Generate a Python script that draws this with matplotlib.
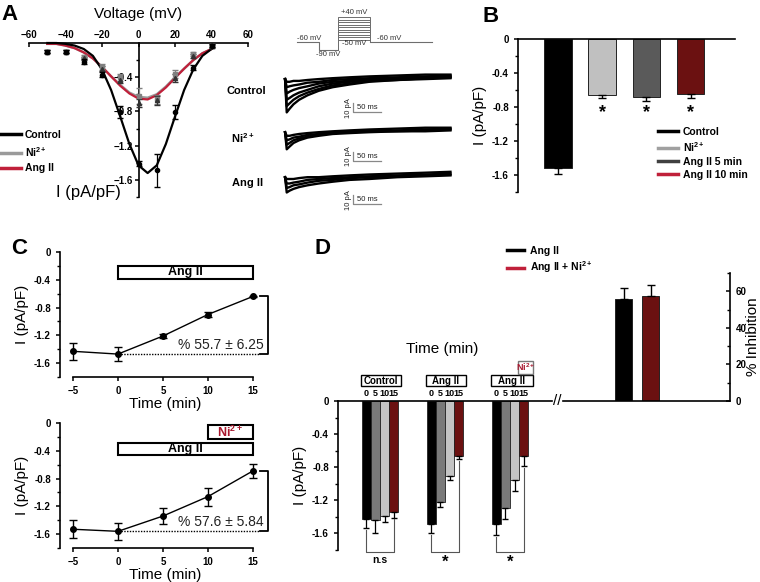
import matplotlib
matplotlib.use('Agg')
import matplotlib.pyplot as plt
from matplotlib.patches import Rectangle
from matplotlib.lines import Line2D

plt.rcParams['font.family'] = ['Liberation Sans', 'DejaVu Sans']
plt.rcParams['mathtext.fontset'] = 'custom'
plt.rcParams['mathtext.rm'] = 'Liberation Sans'
plt.rcParams['mathtext.bf'] = 'Liberation Sans:bold'
plt.rcParams['axes.linewidth'] = 1.2

# ---------------- data ----------------
# Panel A: I-V relation
iv_fit_v = [-50, -45, -40, -35, -30, -25, -20, -15, -10, -5, 0, 5, 10, 15, 20, 25, 30, 35, 40]
iv_fit_ctrl = [0.00, 0.00, -0.01, -0.03, -0.07, -0.15, -0.31, -0.55, -0.86, -1.18, -1.43, -1.52,
               -1.43, -1.18, -0.86, -0.55, -0.31, -0.15, -0.07]
iv_fit_ni = [-0.01, -0.01, -0.03, -0.06, -0.11, -0.18, -0.28, -0.39, -0.49, -0.58, -0.63, -0.64,
             -0.60, -0.51, -0.40, -0.30, -0.20, -0.12, -0.07]
iv_fit_ang = [-0.01, -0.01, -0.03, -0.06, -0.11, -0.18, -0.28, -0.39, -0.50, -0.59, -0.65, -0.66,
              -0.61, -0.52, -0.41, -0.30, -0.20, -0.12, -0.07]
iv_v = [-50, -40, -30, -20, -10, 0, 10, 20, 30, 40]
iv_ctrl = [-0.10, -0.10, -0.22, -0.37, -0.81, -1.41, -1.49, -0.81, -0.29, -0.03]
iv_ctrl_err = [0.02, 0.02, 0.03, 0.03, 0.07, 0.03, 0.19, 0.08, 0.03, 0.02]
iv_ni = [-0.10, -0.10, -0.16, -0.28, -0.40, -0.62, -0.66, -0.36, -0.13, -0.03]
iv_ni_err = [0.02, 0.02, 0.02, 0.03, 0.04, 0.09, 0.05, 0.05, 0.02, 0.02]
iv_ang = [-0.10, -0.10, -0.18, -0.30, -0.43, -0.70, -0.67, -0.41, -0.15, -0.04]
iv_ang_err = [0.02, 0.02, 0.02, 0.03, 0.04, 0.05, 0.05, 0.05, 0.02, 0.02]

# Voltage protocol (ms, mV)
prot_t = [0, 39, 73, 130, 241]
prot_hold = -60
prot_pre = -90
prot_steps = [-50, -40, -30, -20, -10, 0, 10, 20, 30, 40]

# Current traces (ms, pA)
trace_t = [0, 3, 8, 15, 25, 40, 60, 85, 115, 150, 200, 250, 295]
traces_ctrl = [
    [0, -37, -33, -28, -23, -18, -13, -9, -6, -3, -1, 0, 1],
    [0, -30, -27, -23, -19, -15, -11, -7, -5, -2, -1, 1, 2],
    [0, -23, -21, -18, -15, -12, -8, -5, -3, -1, 0, 2, 2],
    [0, -16, -14, -12, -10, -8, -5, -3, -2, 0, 1, 2, 3],
    [0, -9, -8, -7, -6, -4, -3, -1, 0, 1, 2, 3, 4],
    [0, -3, -3, -2, -2, -1, 0, 1, 2, 3, 4, 5, 5],
]
traces_ni = [
    [0, -19, -16, -12, -9, -6, -4, -2, -1, 0, 1, 1, 2],
    [0, -14, -12, -9, -7, -5, -3, -1, 0, 1, 1, 2, 3],
    [0, -9, -8, -6, -5, -3, -2, 0, 1, 1, 2, 3, 4],
    [0, -4, -4, -3, -2, -1, 0, 1, 2, 3, 4, 5, 5],
]
traces_ang = [
    [0, -17, -15, -13, -11, -9, -7, -5, -3, -2, 0, 1, 2],
    [0, -12, -11, -9, -8, -6, -4, -3, -1, 0, 1, 2, 3],
    [0, -7, -7, -6, -5, -3, -2, -1, 0, 1, 2, 3, 4],
    [0, -2, -2, -2, -1, 0, 0, 1, 2, 3, 4, 5, 6],
]

# Panel B
b_labels = ['Control', 'Ni$^{\\mathbf{2+}}$', 'Ang II 5 min', 'Ang II 10 min']
b_vals = [-1.52, -0.66, -0.68, -0.65]
b_err = [0.07, 0.04, 0.05, 0.04]

# Panel C
c_time = [-5, 0, 5, 10, 15]
c_ang = [-1.43, -1.47, -1.21, -0.90, -0.64]
c_ang_err = [0.12, 0.10, 0.03, 0.03, 0.01]
c_angni = [-1.53, -1.56, -1.34, -1.06, -0.69]
c_angni_err = [0.13, 0.12, 0.12, 0.13, 0.10]
c_inh_text = ['% 55.7 ± 6.25', '% 57.6 ± 5.84']

# Panel D
d_groups = ['Control', 'Ang II', 'Ang II']
d_times = ['0', '5', '10', '15']
d_vals = [[-1.43, -1.44, -1.39, -1.34],
          [-1.49, -1.22, -0.90, -0.66],
          [-1.49, -1.29, -0.96, -0.67]]
d_err = [[0.11, 0.15, 0.07, 0.07],
         [0.11, 0.06, 0.06, 0.04],
         [0.13, 0.13, 0.13, 0.12]]
d_sig = ['n.s', '*', '*']
inh_vals = [55.7, 57.6]
inh_err = [6.25, 5.84]

# ---------------- figure ----------------
W, H = 760, 582
fig = plt.figure(figsize=(W / 100, H / 100), dpi=100)


def pax(l, t, r, b):
    return fig.add_axes([l / W, 1 - b / H, (r - l) / W, (b - t) / H])


def ftext(x, y, s, **kw):
    fig.text(x / W, 1 - y / H, s, **kw)


RED = '#c0203a'
NIRED = '#a8182e'
DRED = '#6b1111'
NI = r'Ni$^{\mathbf{2+}}$'

# ---------- Panel A ----------
axA = pax(29, 43, 248, 197)
axA.set_xlim(-60, 60)
axA.set_ylim(-1.8, 0)
for s in ['bottom', 'right']:
    axA.spines[s].set_visible(False)
axA.spines['left'].set_position(('data', 0))
axA.xaxis.tick_top()
axA.set_xticks([-60, -40, -20, 0, 20, 40, 60])
axA.tick_params(axis='x', direction='in', length=3, width=1.1, pad=2)
axA.set_yticks([-0.4, -0.8, -1.2, -1.6])
axA.set_yticks([-0.2, -0.6, -1.0, -1.4, -1.8], minor=True)
axA.tick_params(axis='y', direction='out', length=3, width=1.1, pad=1)
axA.tick_params(axis='y', which='minor', direction='out', length=2, width=1.0)
for lb in axA.get_xticklabels() + axA.get_yticklabels():
    lb.set_fontsize(7)
    lb.set_fontweight('bold')
axA.xaxis.set_label_position('top')
axA.set_xlabel('Voltage (mV)', fontsize=11, labelpad=9)
axA.plot(iv_fit_v, iv_fit_ni, color='#9a9a9a', lw=1.8, clip_on=False, zorder=3)
axA.plot(iv_fit_v, iv_fit_ang, color=RED, lw=1.6, clip_on=False, zorder=4)
axA.plot(iv_fit_v, iv_fit_ctrl, color='black', lw=1.6, clip_on=False, zorder=5)
axA.errorbar(iv_v, iv_ni, yerr=iv_ni_err, fmt='s', color='#808080', ms=3, capsize=2,
             elinewidth=0.9, clip_on=False, zorder=6)
axA.errorbar(iv_v, iv_ang, yerr=iv_ang_err, fmt='^', color='#333333', ms=3, capsize=2,
             elinewidth=0.9, clip_on=False, zorder=6)
axA.errorbar(iv_v, iv_ctrl, yerr=iv_ctrl_err, fmt='o', color='black', ms=3, capsize=2,
             elinewidth=0.9, clip_on=False, zorder=7)
ftext(88, 193, 'I (pA/pF)', fontsize=12, ha='center', va='center')
handlesA = [Line2D([], [], color='black', lw=2.5), Line2D([], [], color='#9a9a9a', lw=2.5),
            Line2D([], [], color=RED, lw=2.5)]
fig.legend(handlesA, ['Control', NI, 'Ang II'], loc='upper left',
           bbox_to_anchor=(0 / W, 1 - 129 / H), frameon=False,
           prop=dict(size=7.5, weight='bold'), handlelength=1.9, handletextpad=0.4,
           labelspacing=0.45, borderaxespad=0, borderpad=0.1)

# ---------- Voltage protocol ----------
axP = pax(290, 5, 440, 60)
axP.set_xlim(-12.5, 255)
axP.set_ylim(-129.4, 87.3)
axP.axis('off')
pc = '#6e6e6e'
axP.plot([prot_t[0], prot_t[1], prot_t[1], prot_t[2]],
         [prot_hold, prot_hold, prot_pre, prot_pre], color=pc, lw=0.8)
for v in prot_steps:
    axP.plot([prot_t[2], prot_t[2], prot_t[3], prot_t[3]], [prot_pre, v, v, prot_hold],
             color=pc, lw=0.7)
axP.plot([prot_t[3], prot_t[4]], [prot_hold, prot_hold], color=pc, lw=0.8)
pf = dict(fontsize=5.5, color='#333333')
axP.text(prot_t[0], prot_hold + 3, '-60 mV', ha='left', va='bottom', **pf)
axP.text((prot_t[1] + prot_t[2]) / 2, prot_pre - 3, '-90 mV', ha='center', va='top', **pf)
axP.text((prot_t[2] + prot_t[3]) / 2, prot_steps[-1] + 3, '+40 mV', ha='center', va='bottom', **pf)
axP.text((prot_t[2] + prot_t[3]) / 2, prot_steps[0] - 2, '-50 mV', ha='center', va='top', **pf)
axP.text(prot_t[3] + 13, prot_hold + 3, '-60 mV', ha='left', va='bottom', **pf)

# ---------- Traces ----------
axT = pax(280, 62, 460, 215)
axT.set_xlim(-9, 312)
axT.set_ylim(-170, 0)
axT.axis('off')
trace_sets = [(traces_ctrl, -19, -37), (traces_ni, -78, -32), (traces_ang, -128, -30)]
for tset, base, sb in trace_sets:
    for tr in tset:
        axT.plot(trace_t, [base + v for v in tr], color='black', lw=1.7, solid_joinstyle='round')
    # scale bars 10 pA / 50 ms
    axT.plot([121, 121, 171], [base + sb + 10, base + sb, base + sb], color='#888888', lw=0.9)
    axT.text(146, base + sb + 1.5, '50 ms', fontsize=5.5, ha='center', va='bottom', color='#222222')
    axT.text(114, base + sb + 5, '10 pA', fontsize=5.5, ha='center', va='center', rotation=90,
             color='#222222')
ftext(246, 91, 'Control', fontsize=8, fontweight='bold', ha='center', va='center')
ftext(231, 138, NI, fontsize=8, fontweight='bold', ha='left', va='center')
ftext(232, 183, 'Ang II', fontsize=8, fontweight='bold', ha='left', va='center')

# ---------- Panel B ----------
axB = pax(518, 39, 735, 192)
axB.set_ylim(-1.8, 0)
axB.set_xlim(-0.9, 4.0)
for s in ['bottom', 'right']:
    axB.spines[s].set_visible(False)
b_colors = ['black', '#c0c0c0', '#5a5a5a', DRED]
xb = list(range(len(b_vals)))
axB.bar(xb, b_vals, 0.62, color=b_colors, edgecolor='#222222', lw=0.7)
axB.errorbar(xb, b_vals, yerr=[b_err, [0] * 4], fmt='none', ecolor='black', elinewidth=1.0,
             capsize=3)
axB.set_xticks([])
axB.set_yticks([0, -0.4, -0.8, -1.2, -1.6])
axB.set_yticklabels(['0', '-0.4', '-0.8', '-1.2', '-1.6'])
axB.set_yticks([-0.2, -0.6, -1.0, -1.4, -1.8], minor=True)
axB.tick_params(axis='y', direction='out', length=3, width=1.1, labelsize=7)
axB.tick_params(axis='y', which='minor', length=2, width=1.0)
for lb in axB.get_yticklabels():
    lb.set_fontweight('bold')
axB.set_ylabel('I (pA/pF)', fontsize=11, labelpad=4)
for i in range(1, 4):
    axB.text(xb[i], -0.76, '*', fontsize=13, fontweight='bold', ha='center', va='top')
handlesB = [Line2D([], [], color=c, lw=2.5) for c in ['black', '#a0a0a0', '#404040', RED]]
fig.legend(handlesB, b_labels, loc='upper left', bbox_to_anchor=(657 / W, 1 - 126 / H),
           frameon=False, prop=dict(size=7.5, weight='bold'), handlelength=1.9,
           handletextpad=0.5, labelspacing=0.28, borderaxespad=0, borderpad=0.1)

# ---------- Panel C ----------
def panel_c(ax, vals, errs, txt, with_ni):
    ax.set_xlim(-6.44, 16.9)
    ax.set_ylim(-1.8, 0)
    for s in ['top', 'right']:
        ax.spines[s].set_visible(False)
    ax.spines['bottom'].set_bounds(c_time[0], c_time[-1])
    ax.set_xticks(c_time)
    ax.set_yticks([0, -0.4, -0.8, -1.2, -1.6])
    ax.set_yticklabels(['0', '-0.4', '-0.8', '-1.2', '-1.6'])
    ax.set_yticks([-0.2, -0.6, -1.0, -1.4, -1.8], minor=True)
    ax.tick_params(axis='both', direction='out', length=3, width=1.1, labelsize=7)
    ax.tick_params(axis='y', which='minor', length=2, width=1.0)
    for lb in ax.get_xticklabels() + ax.get_yticklabels():
        lb.set_fontweight('bold')
    ax.set_xlabel('Time (min)', fontsize=11, labelpad=1)
    ax.set_ylabel('I (pA/pF)', fontsize=11, labelpad=4)
    ax.errorbar(c_time, vals, yerr=errs, fmt='-o', color='black', ms=4, lw=1.0, capsize=3,
                elinewidth=1.0, clip_on=False, zorder=5)
    top = -0.2 if not with_ni else -0.29
    hgt = 0.19 if not with_ni else 0.17
    ax.add_patch(Rectangle((0, top - hgt), 15, hgt, fc='white', ec='black', lw=1.5, zorder=3))
    ax.text(7.5, top - hgt / 2, 'Ang II', fontsize=9, fontweight='bold', ha='center', va='center')
    if with_ni:
        ax.add_patch(Rectangle((10, -0.23), 5, 0.2, fc='white', ec='black', lw=1.5, zorder=3))
        ax.text(12.5, -0.13, NI, fontsize=9, fontweight='bold', color=NIRED, ha='center',
                va='center')
    ax.plot([0.3, 15.8], [vals[1], vals[1]], ls=(0, (1, 1)), color='black', lw=1.0, clip_on=False)
    ax.plot([15.8, 16.67, 16.67, 15.8], [vals[-1], vals[-1], vals[1], vals[1]], color='black',
            lw=1.3, clip_on=False)
    ax.text(16.2, vals[1] + 0.13, txt, fontsize=10, ha='right', va='center', color='#222222')


axC1 = pax(60, 252, 270, 377)
panel_c(axC1, c_ang, c_ang_err, c_inh_text[0], False)
axC2 = pax(60, 423, 270, 548)
panel_c(axC2, c_angni, c_angni_err, c_inh_text[1], True)

# ---------- Panel D ----------
axD = pax(338, 401, 552, 550)
axD.set_xlim(-0.646, 2.646)
axD.set_ylim(-1.8, 0)
for s in ['bottom', 'right']:
    axD.spines[s].set_visible(False)
axD.set_xticks([])
axD.set_yticks([0, -0.4, -0.8, -1.2, -1.6])
axD.set_yticklabels(['0', '-0.4', '-0.8', '-1.2', '-1.6'])
axD.set_yticks([-0.2, -0.6, -1.0, -1.4, -1.8], minor=True)
axD.tick_params(axis='y', direction='out', length=3, width=1.1, labelsize=7)
axD.tick_params(axis='y', which='minor', length=2, width=1.0)
for lb in axD.get_yticklabels():
    lb.set_fontweight('bold')
axD.set_ylabel('I (pA/pF)', fontsize=11, labelpad=4)
w = 0.139
offs = [-1.5 * w, -0.5 * w, 0.5 * w, 1.5 * w]
d_colors = ['black', '#7a7a7a', '#c4c4c4', DRED]
for g in range(3):
    xs = [g + o for o in offs]
    axD.bar(xs, d_vals[g], w, color=d_colors, edgecolor='#222222', lw=0.6)
    axD.errorbar(xs, d_vals[g], yerr=[d_err[g], [0] * 4], fmt='none', ecolor='black',
                 elinewidth=0.9, capsize=2.5)
    for k in range(4):
        axD.text(xs[k], 0.085, d_times[k], fontsize=6.5, fontweight='bold', ha='center',
                 va='center', clip_on=False)
    right = 0.32 if g < 2 else 0.35
    axD.add_patch(Rectangle((g - 0.29, 0.18), right + 0.29, 0.13, fc='white', ec='black',
                            lw=1.0, clip_on=False))
    axD.text(g + (right - 0.29) / 2, 0.245, d_groups[g], fontsize=7, fontweight='bold',
             ha='center', va='center', clip_on=False)
    # significance bracket
    yl = d_vals[g][0] - d_err[g][0] - 0.02
    yr = d_vals[g][3] - d_err[g][3] - 0.02
    axD.plot([xs[0], xs[0], xs[3], xs[3]], [yl, -1.83, -1.83, yr], color='#555555', lw=0.8,
             clip_on=False)
    if d_sig[g] == '*':
        axD.text(g, -1.86, '*', fontsize=12, fontweight='bold', ha='center', va='top')
    else:
        axD.text(g, -1.86, d_sig[g], fontsize=7.5, fontweight='bold', ha='center', va='top')
axD.add_patch(Rectangle((2 + 0.12, 0.33), 0.23, 0.15, fc='white', ec='#777777', lw=1.0,
                        clip_on=False))
axD.text(2 + 0.235, 0.405, NI, fontsize=6.5, fontweight='bold', color=NIRED, ha='center',
         va='center', clip_on=False)
ftext(442, 349, 'Time (min)', fontsize=11, ha='center', va='center')

axI = pax(563, 273, 730, 401)
axI.set_ylim(0, 70)
axI.set_xlim(-2.24, 3.94)
for s in ['top', 'left']:
    axI.spines[s].set_visible(False)
axI.yaxis.tick_right()
axI.set_xticks([])
axI.set_yticks([0, 20, 40, 60])
axI.set_yticks([10, 30, 50, 70], minor=True)
axI.tick_params(axis='y', direction='in', length=3, width=1.1, labelsize=7, pad=4)
axI.tick_params(axis='y', which='minor', direction='in', length=2, width=1.0)
for lb in axI.get_yticklabels():
    lb.set_fontweight('bold')
axI.bar([0, 1], inh_vals, 0.63, color=['black', DRED], edgecolor='#222222', lw=0.7)
axI.errorbar([0, 1], inh_vals, yerr=[[0, 0], inh_err], fmt='none', ecolor='black',
             elinewidth=1.0, capsize=3)
ftext(753, 337, '% Inhibition', fontsize=11, rotation=90, ha='center', va='center')
ftext(557, 401, '//', fontsize=11, ha='center', va='center')
handlesD = [Line2D([], [], color='black', lw=2.5), Line2D([], [], color=RED, lw=2.5)]
fig.legend(handlesD, ['Ang II', 'Ang II + ' + NI], loc='upper left',
           bbox_to_anchor=(506 / W, 1 - 245 / H), frameon=False,
           prop=dict(size=7.5, weight='bold'), handlelength=1.6, handletextpad=0.6,
           labelspacing=0.35, borderaxespad=0, borderpad=0.1)

# panel letters
ftext(10, 14, 'A', fontsize=16, fontweight='bold', ha='center', va='center')
ftext(491, 16, 'B', fontsize=16, fontweight='bold', ha='center', va='center')
ftext(19, 248, 'C', fontsize=16, fontweight='bold', ha='center', va='center')
ftext(323, 248, 'D', fontsize=16, fontweight='bold', ha='center', va='center')

fig.savefig('out.png', dpi=100)
